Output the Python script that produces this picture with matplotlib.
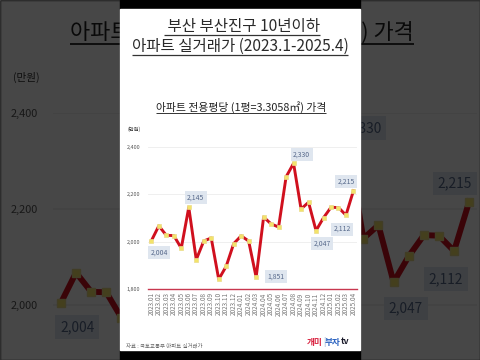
import matplotlib.pyplot as plt
from matplotlib.patches import Rectangle

plt.rcParams['font.family'] = ['Noto Sans CJK KR', 'DejaVu Sans']

# monthly price per pyeong (만원), 2023.01 - 2025.04
months = ['2023.01', '2023.02', '2023.03', '2023.04', '2023.05', '2023.06',
          '2023.07', '2023.08', '2023.09', '2023.10', '2023.11', '2023.12',
          '2024.01', '2024.02', '2024.03', '2024.04', '2024.05', '2024.06',
          '2024.07', '2024.08', '2024.09', '2024.10', '2024.11', '2024.12',
          '2025.01', '2025.02', '2025.03', '2025.04']
prices = [2004, 2067, 2027, 2026, 1973, 2145, 1925, 2003, 2016, 1842,
          1897, 1992, 2025, 2003, 1851, 2104, 2075, 2062, 2273, 2330,
          2138, 2166, 2047, 2101, 2145, 2144, 2112, 2215]
yticks = [1800, 2000, 2200, 2400]
labeled = [0, 5, 14, 19, 22, 26, 27]

# label offsets from the point, in pixels (x right, y down)
label_off = {0: (8, 12), 5: (7, -10), 14: (20, -1), 19: (8, -9),
             22: (6, 13), 26: (-4, 14), 27: (-7, -9)}

W, H = 480, 360
CX, CY = 240, 180
RED = '#d0101e'

fig = plt.figure(figsize=(4.8, 3.6), dpi=100, facecolor='#1a1a1a')
renderer = fig.canvas.get_renderer()


def layer_axes(z):
    a = fig.add_axes([0, 0, 1, 1], zorder=z)
    a.set_xlim(0, W)
    a.set_ylim(H, 0)
    a.axis('off')
    return a


def text_width(lay, t):
    bb = t.get_window_extent(renderer=renderer)
    return bb.width


def underline(lay, t, lw, dy):
    bb = t.get_window_extent(renderer=renderer)
    inv = lay.transData.inverted()
    (x0, y0), (x1, y1) = inv.transform([(bb.x0, bb.y0), (bb.x1, bb.y1)])
    lay.plot([x0, x1], [y0 + dy, y0 + dy], color='#333333', lw=lw,
             solid_capstyle='butt')


def draw(s, z):
    m = lambda x, y: (CX + s * (x - CX), CY + s * (y - CY))
    lay = layer_axes(z)

    # panel
    x, y = m(120, 0)
    lay.add_patch(Rectangle((x, y), 240 * s, 360 * s, color='black'))
    x, y = m(120, 9)
    lay.add_patch(Rectangle((x, y), 240 * s, 341 * s, color='white'))

    # headline
    t = lay.text(*m(242, 27), ' 부산 부산진구 10년이하', fontsize=11.2 * s,
                 ha='center', va='center', color='#2a2a2a')
    underline(lay, t, 0.9 * s, -0.5 * s)
    t = lay.text(*m(240, 46.5), '아파트 실거래가 (2023.1-2025.4)',
                 fontsize=11.2 * s, ha='center', va='center', color='#2a2a2a')
    underline(lay, t, 0.9 * s, -0.5 * s)

    # chart title
    t = lay.text(*m(241, 107), '아파트 전용평당 (1평=3.3058㎡) 가격',
                 fontsize=7.8 * s, ha='center', va='center', color='#222222')
    underline(lay, t, 0.7 * s, -0.3 * s)

    lay.text(*m(134, 129), '(만원)', fontsize=3.8 * s, ha='center',
             va='center', color='#333333')

    # footer
    lay.text(*m(126, 346), '자료 : 국토교통부 아파트 실거래가', fontsize=3.9 * s,
             ha='left', va='center', color='#666666')
    xx, yy = m(307, 342)
    for piece, col, wt in [('개미', '#d81e3c', 'bold'), ('|', '#7a9cc8', 'normal'),
                           ('부자', '#2a62c0', 'bold'), ('tv', '#1a1a2a', 'bold')]:
        t = lay.text(xx, yy, piece, fontsize=6.2 * s, ha='left', va='center',
                     color=col, fontweight=wt)
        xx += text_width(lay, t)

    # chart
    x0, y0 = m(147.6, 146.7)
    x1, y1 = m(357.2, 289.3)
    ax = fig.add_axes([x0 / W, 1 - y1 / H, (x1 - x0) / W, (y1 - y0) / H],
                      zorder=z + 0.5)
    ax.patch.set_alpha(0)
    idx = list(range(len(months)))
    ax.plot(idx, prices, color=RED, lw=2.1 * s, marker='s', ms=3.2 * s,
            mfc='#f3e36a', mec='#eadc8a', mew=0.5 * s, zorder=3)
    ax.set_xlim(-0.5, len(months) - 0.5)
    ax.set_ylim(yticks[0], yticks[-1])
    ax.set_yticks(yticks)
    ax.set_yticklabels([f'{v:,}' for v in yticks])
    ax.set_xticks(idx)
    ax.set_xticklabels(months, rotation=90)
    ax.grid(axis='y', color='#ececec', lw=0.6 * s)
    ax.set_axisbelow(True)
    for sp in ['top', 'right', 'left']:
        ax.spines[sp].set_visible(False)
    ax.spines['bottom'].set_color('#c8374f')
    ax.spines['bottom'].set_linewidth(1.0 * s)
    ax.tick_params(axis='y', length=0, labelsize=3.9 * s, colors='#555555',
                   pad=5.5 * s)
    ax.tick_params(axis='x', length=0, labelsize=4.6 * s, colors='#777777',
                   pad=2.2 * s)

    for i in labeled:
        dx, dy = label_off[i]
        ax.annotate(f'{prices[i]:,}', (i, prices[i]),
                    xytext=(dx * s, -dy * s), textcoords='offset pixels',
                    ha='center', va='center', fontsize=4.9 * s,
                    color='#56688a', zorder=4, annotation_clip=False,
                    bbox=dict(boxstyle='square,pad=0.35', fc='#dfe6ef',
                              ec='none'))


# blurred, enlarged backdrop
draw(2.02, 0)
shade = layer_axes(1)
shade.add_patch(Rectangle((0, 0), W, H, color='black', alpha=0.72))
# foreground panel
draw(1.0, 2)

fig.savefig('out.png', dpi=100, facecolor=fig.get_facecolor())
